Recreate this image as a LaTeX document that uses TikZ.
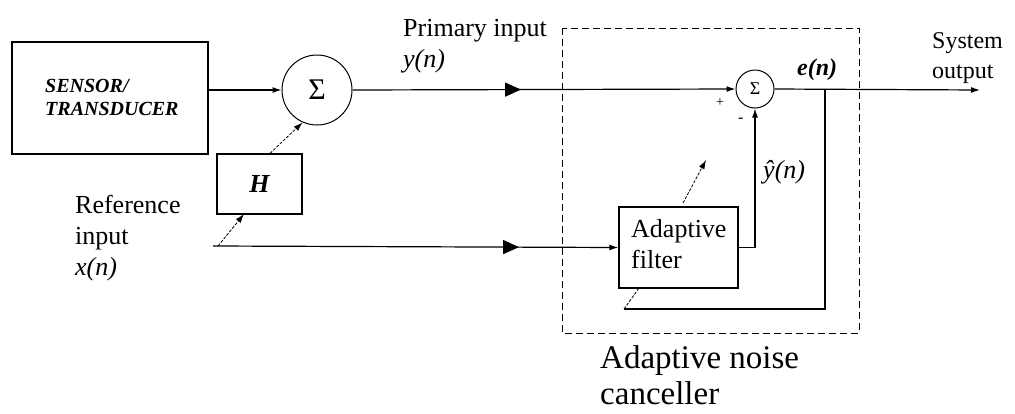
\documentclass[tikz,border=0pt]{standalone}
\usepackage{fontspec}
\setmainfont{Liberation Serif}
\usetikzlibrary{arrows.meta,decorations.markings}
\newcommand\fsz[2]{\fontsize{#1}{#2}\selectfont}
\tikzset{
  blk/.style={draw, rectangle, line width=1.2pt, inner sep=0pt},
  sumnode/.style={draw, circle, line width=1pt, inner sep=0pt},
  sig/.style={line width=1.2pt},
  tip/.style={-{Latex[length=9pt,width=6pt]}},
  midarrow/.style={postaction={decorate},decoration={markings,mark=at position #1 with {\arrow{Triangle[length=16pt,width=14pt]}}}},
  adapt/.style={line width=0.8pt, dash pattern=on 3pt off 1.5pt},
  adapttip/.style={adapt, -{Latex[length=9pt,width=6pt]}},
  frame/.style={draw, line width=1pt, dash pattern=on 7pt off 4pt},
  lbl/.style={inner sep=0pt, align=left, anchor=base west},
}
\begin{document}
\begin{tikzpicture}[x=1pt,y=-1pt]
\useasboundingbox (0,0) rectangle (1015,413);
% blocks
\node[blk, minimum width=196pt, minimum height=112pt] (sensor) at (110,98) {};
\node[lbl, font=\bfseries\itshape\fsz{20}{23}] (sensortxt) at (45,115) {SENSOR/\\TRANSDUCER};
\node[sumnode, minimum size=70pt, font=\fsz{30}{30}] (sum1) at (317,90) {Σ};
\node[blk, minimum width=85pt, minimum height=60pt, font=\bfseries\itshape\fsz{26}{26}] (H) at (259.5,184) {H};
\node[blk, minimum width=119pt, minimum height=81pt] (filter) at (678.5,247.5) {};
\node[lbl, font=\fsz{26}{31}] (filtertxt) at (631,268) {Adaptive\\filter};
\node[sumnode, minimum size=38pt, font=\fsz{18}{18}] (sum2) at (755,89) {Σ};
\draw[frame] (562,28) rectangle (859,333);
% labels
\node[lbl, font=\fsz{26}{31}] (prim) at (403,67) {Primary input\\\textit{y(n)}};
\node[lbl, font=\fsz{26}{31}] (ref) at (75,275) {Reference\\input\\\textit{x(n)}};
\node[lbl, font=\fsz{24}{30}] (sysout) at (932,78) {System\\output};
\node[lbl, font=\fsz{33}{36}] (anc) at (600,404) {Adaptive noise\\canceller};
\node[lbl, font=\bfseries\itshape\fsz{24}{24}] (en) at (797,75) {e(n)};
\node[lbl, font=\itshape\fsz{26}{26}] (yhat) at (763,178) {ŷ(n)};
\node[lbl, font=\fsz{14}{14}] (plus) at (716,106) {+};
\node[lbl, font=\fsz{16}{16}] (minus) at (738,122) {-};
% coordinates
\coordinate (refstart) at (213,246);
\coordinate (hbot) at (244,214);
\coordinate (refdiag) at (218,246);
\coordinate (junc) at (825,90);
\coordinate (out) at (980,90);
\coordinate (fb) at (624,309);
\coordinate (fbend) at (639,288);
\coordinate (adA) at (683,203);
\coordinate (adB) at (706,160);
% connectors
\draw[sig, tip] (sensor.east |- sum1.west) -- (sum1.west);
\draw[sig, tip, midarrow=0.44] (sum1.east) -- (sum2.west);
\draw[sig, tip, midarrow=0.755] (refstart) -- (filter.west);
\draw[sig, tip] (filter.east) -| (sum2.south);
\draw[sig, tip] (sum2.east) -- (out);
\draw[sig] (junc) |- (fb);
\draw[adapt] (fb) -- (fbend);
\draw[adapttip] (adA) -- (adB);
\draw[adapttip] (refdiag) -- (hbot);
\draw[adapttip] (H.north -| 270,0) -- (sum1.246);
\end{tikzpicture}
\end{document}
